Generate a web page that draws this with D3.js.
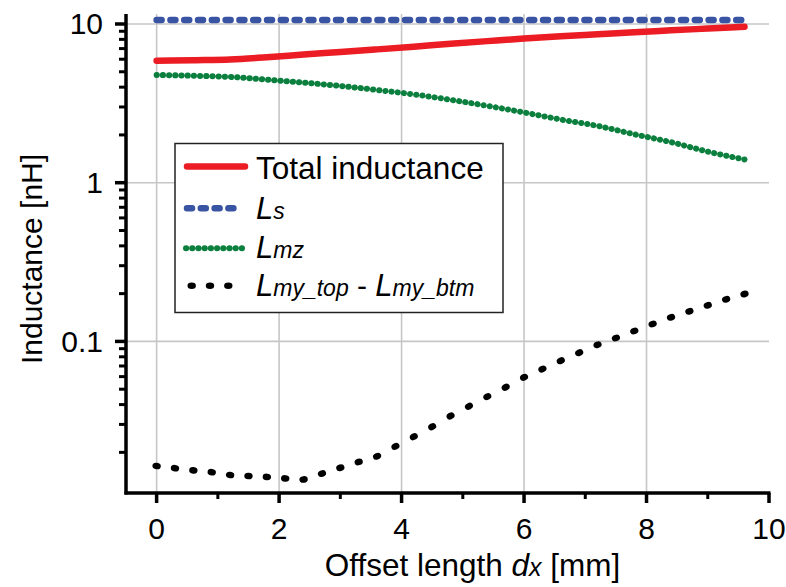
<!DOCTYPE html>
<html><head><meta charset="utf-8">
<script src="https://cdn.jsdelivr.net/npm/d3@7"></script>
<style>body{margin:0;background:#fff}svg{display:block}text{font-family:"Liberation Sans",Arial,sans-serif}</style>
</head><body><svg id="c" width="786" height="587"></svg>
<script>
// ---- data ----
const xGrid = [0,0.6,1.2,1.8,2.4,3.0,3.6,4.2,4.8,5.4,6.0,6.6,7.2,7.8,8.4,9.0,9.6];
const totalL = [5.87,5.92,5.98,6.18,6.42,6.66,6.92,7.2,7.5,7.8,8.1,8.38,8.62,8.88,9.12,9.36,9.6];
const Ls = [10.6,10.6,10.6,10.6,10.6,10.6,10.6,10.6,10.6,10.6,10.6,10.6,10.6,10.6,10.6,10.6,10.6];
const Lmz = [4.77,4.72,4.64,4.46,4.27,4.07,3.84,3.6,3.33,3.05,2.77,2.5,2.28,2.02,1.8,1.57,1.40];
const xDots = [0,0.3,0.6,0.9,1.2,1.5,1.8,2.1,2.4,2.7,3.0,3.3,3.6,3.9,4.2,4.5,4.8,5.1,5.4,5.7,6.0,6.3,6.6,6.9,7.2,7.5,7.8,8.1,8.4,8.7,9.0,9.3,9.6];
const Lmy = [0.0164,0.0159,0.0154,0.0150,0.0144,0.0142,0.0140,0.0137,0.0135,0.0147,0.0160,0.0174,0.0189,0.0218,0.0251,0.0290,0.0339,0.0390,0.0449,0.0514,0.0594,0.0670,0.0756,0.0849,0.0953,0.1051,0.1163,0.1287,0.1419,0.1548,0.1689,0.1842,0.1990];
const xTicksMajor = [0,2,4,6,8,10];
const xTicksMinor = [1,3,5,7,9];
const yTicksMajor = [0.1,1,10];
const yTickLabels = ["0.1","1","10"];
const xGridVals = [0,2,4,6,8];

// ---- layout ----
const svg = d3.select("#c");
const L = 126, R = 769, T = 14, B = 493;
const x = d3.scaleLinear().domain([-0.5,10]).range([L,R]);
const y = d3.scaleLog().domain([0.01109,11.56]).range([B,T]);
const FS = 30;

// gridlines
svg.append("g").selectAll("line").data(yTicksMajor).join("line")
  .attr("x1",L).attr("x2",R).attr("y1",d=>y(d)).attr("y2",d=>y(d))
  .attr("stroke","#c6c6c6").attr("stroke-width",1.6);
svg.append("g").selectAll("line").data(xGridVals).join("line")
  .attr("x1",d=>x(d)).attr("x2",d=>x(d)).attr("y1",T).attr("y2",B)
  .attr("stroke","#c6c6c6").attr("stroke-width",1.6);

// series
const line = (xs, ys) => d3.line().x((d,i)=>x(xs[i])).y(d=>y(d)).curve(d3.curveMonotoneX)(ys);
svg.append("path").attr("d",line(xGrid,Lmz)).attr("fill","none")
  .attr("stroke","#0b7f3e").attr("stroke-width",6).attr("stroke-linecap","round")
  .attr("stroke-dasharray","0.2,6");
svg.append("path").attr("d",line(xGrid,totalL)).attr("fill","none")
  .attr("stroke","#ec1c24").attr("stroke-width",6.5).attr("stroke-linecap","round");
svg.append("path").attr("d",line(xGrid,Ls)).attr("fill","none")
  .attr("stroke","#3a54a4").attr("stroke-width",6.5).attr("stroke-linecap","round")
  .attr("stroke-dasharray","5,8.8");

// black dots (markers oriented along the curve)
const pts = xDots.map((d,i)=>[x(d),y(Lmy[i])]);
svg.append("g").selectAll("ellipse").data(pts).join("ellipse")
  .attr("cx",0).attr("cy",0).attr("rx",4.2).attr("ry",3.3).attr("fill","#000")
  .attr("transform",(p,i)=>{
    const a = pts[Math.max(0,i-1)], b = pts[Math.min(pts.length-1,i+1)];
    const ang = Math.atan2(b[1]-a[1], b[0]-a[0])*180/Math.PI;
    return `translate(${p[0]},${p[1]}) rotate(${ang})`;
  });

// axes
const ax = svg.append("g").attr("stroke","#000").attr("stroke-width",3.5);
ax.append("line").attr("x1",L).attr("x2",L).attr("y1",T).attr("y2",B+1.5);
ax.append("line").attr("x1",L-1.5).attr("x2",R+1.5).attr("y1",B).attr("y2",B);
const yMinor = [];
[0.01,0.1,1].forEach(dec=>{for(let k=2;k<=9;k++){const v=dec*k; if(v>0.0111&&v<11.5) yMinor.push(v);}});
ax.selectAll(".ymaj").data(yTicksMajor).join("line").attr("x1",L-11).attr("x2",L).attr("y1",d=>y(d)).attr("y2",d=>y(d));
ax.selectAll(".ymin").data(yMinor).join("line").attr("x1",L-7).attr("x2",L).attr("y1",d=>y(d)).attr("y2",d=>y(d)).attr("stroke-width",3);
ax.selectAll(".xmaj").data(xTicksMajor).join("line").attr("x1",d=>x(d)).attr("x2",d=>x(d)).attr("y1",B).attr("y2",B+10);
ax.selectAll(".xmin").data(xTicksMinor).join("line").attr("x1",d=>x(d)).attr("x2",d=>x(d)).attr("y1",B).attr("y2",B+6).attr("stroke-width",3);

// tick labels
svg.append("g").selectAll("text").data(yTicksMajor).join("text")
  .attr("x",103).attr("y",d=>y(d)+10.5).attr("text-anchor","end").attr("font-size",FS)
  .text((d,i)=>yTickLabels[i]);
svg.append("g").selectAll("text").data(xTicksMajor).join("text")
  .attr("x",d=>x(d)).attr("y",538.5).attr("text-anchor","middle").attr("font-size",FS)
  .text(d=>d);

// axis titles
const xt = svg.append("text").attr("x",472.5).attr("y",575.5).attr("text-anchor","middle").attr("font-size",31.5);
xt.append("tspan").text("Offset length ");
xt.append("tspan").attr("font-style","italic").text("d");
xt.append("tspan").attr("font-style","italic").attr("font-size",25).text("x");
xt.append("tspan").text(" [mm]");
svg.append("text").attr("transform","translate(41.5,259) rotate(-90)").attr("text-anchor","middle")
  .attr("font-size",30).text("Inductance [nH]");

// legend
const lg = svg.append("g");
lg.append("rect").attr("x",175).attr("y",143.5).attr("width",328).attr("height",169)
  .attr("fill","#fff").attr("stroke","#222").attr("stroke-width",1.5);
lg.append("line").attr("x1",187).attr("x2",245).attr("y1",166.5).attr("y2",166.5)
  .attr("stroke","#ec1c24").attr("stroke-width",6.5).attr("stroke-linecap","round");
lg.append("line").attr("x1",187).attr("x2",238).attr("y1",208.3).attr("y2",208.3)
  .attr("stroke","#3a54a4").attr("stroke-width",6.5).attr("stroke-linecap","round").attr("stroke-dasharray","5,8.8");
lg.append("line").attr("x1",186).attr("x2",244).attr("y1",248.3).attr("y2",248.3)
  .attr("stroke","#0b7f3e").attr("stroke-width",6).attr("stroke-linecap","round").attr("stroke-dasharray","0.2,6");
lg.selectAll(".ld").data([0,1,2]).join("ellipse").attr("cx",d=>191.7+d*18.3).attr("cy",285.7)
  .attr("rx",4.2).attr("ry",3.3).attr("fill","#000");
lg.append("text").attr("x",256).attr("y",178.5).attr("font-size",31.5).text("Total inductance");
const legTxt = (yy, parts) => {
  const t = lg.append("text").attr("x",256).attr("y",yy).attr("font-size",30).attr("font-style","italic");
  parts.forEach(p=>t.append("tspan").attr("font-size",p[1]).attr("font-style",p[2]||"italic").text(p[0]));
};
legTxt(218.5, [["L",31],["s",23]]);
legTxt(258, [["L",31],["mz",23]]);
legTxt(296, [["L",31],["my_top",23],[" - ",30,"normal"],["L",31],["my_btm",23]]);
</script></body></html>
